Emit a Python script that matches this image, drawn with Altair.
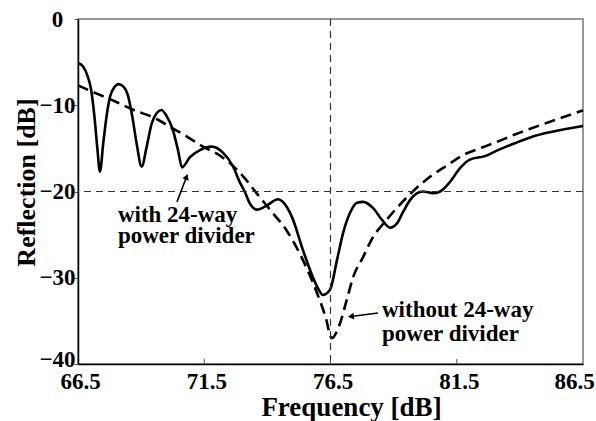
import altair as alt

# ---- data ----
solid_x = [66.5, 66.7, 66.89, 67.02, 67.15, 67.26, 67.37, 67.5, 67.63, 67.77, 67.97, 68.1, 68.3,
           68.49, 68.65, 68.82, 69.02, 69.22, 69.42, 69.62, 69.8, 70.0, 70.26, 70.46, 70.62, 70.94,
           71.33, 71.8, 72.24, 72.64, 72.92, 73.1, 73.31, 73.59, 73.99, 74.42, 74.77, 74.98, 75.41,
           75.81, 76.0, 76.2, 76.48, 76.76, 77.0, 77.27, 77.55, 77.79, 78.18, 78.54, 78.86, 79.13,
           79.37, 79.65, 79.93, 80.16, 80.56, 80.84, 81.23, 81.63, 82.02, 82.62, 83.13, 83.8, 84.44,
           85.23, 86.5]
solid_y = [-5.1, -5.5, -6.7, -8.2, -11.3, -14.8, -17.7, -14.4, -11.3, -9.0, -7.8, -7.55, -7.85,
           -9.0, -11.3, -14.4, -17.1, -14.8, -12.1, -10.9, -10.55, -11.2, -12.9, -15.2, -17.2, -16.0,
           -15.2, -14.8, -15.5, -17.1, -19.0, -20.0, -21.4, -22.1, -21.6, -20.9, -21.8, -23.0, -26.8,
           -30.0, -31.2, -32.0, -31.4, -27.9, -24.8, -22.5, -21.3, -21.2, -21.9, -23.3, -24.2, -23.7,
           -22.4, -21.0, -20.2, -20.0, -20.2, -20.0, -18.9, -17.3, -16.3, -15.9, -15.2, -14.4, -13.7,
           -13.1, -12.4]

dashed_x = [66.5, 67.2, 68.0, 68.7, 69.55, 70.14, 70.8, 71.45, 72.1, 72.7, 73.2, 73.6, 74.1, 74.78,
            75.4, 75.97, 76.3, 76.55, 76.85, 77.15, 77.4, 77.79, 78.18, 78.66, 79.13, 79.65, 80.44,
            81.1, 81.74, 82.5, 83.13, 83.8, 84.44, 85.5, 86.5]
dashed_y = [-7.7, -8.6, -9.6, -10.55, -11.5, -12.5, -13.6, -14.8, -15.8, -17.2, -18.8, -20.3, -22.1,
            -24.6, -27.9, -31.8, -34.5, -37.0, -35.5, -32.5, -29.9, -27.6, -25.3, -23.5, -21.9, -20.3,
            -18.3, -17.0, -15.8, -14.9, -14.2, -13.4, -12.7, -11.6, -10.6]

x_ticks = [66.5, 71.5, 76.5, 81.5, 86.5]
y_ticks = [0, -10, -20, -30, -40]
inner_ticks = [71.5, 76.5, 81.5]
ref_x = [76.5]
ref_y = [-20]

# annotations (data units)
ann1_text = ["with 24-way", "power divider"]
ann1_x = 68.08
ann1_y = -23.54
ann2_text = ["without 24-way", "power divider"]
ann2_x = 78.54
ann2_y = -34.55
arrow_x = [70.42, 78.38]
arrow_y = [-21.2, -34.09]
arrow_x2 = [70.80, 77.31]
arrow_y2 = [-18.29, -34.49]
arrow_angle = [21, 263]

FONT = "Liberation Serif"

x_enc = alt.X("x:Q",
              scale=alt.Scale(domain=[66.5, 86.5], nice=False, zero=False),
              axis=alt.Axis(values=x_ticks, format=".1f", title="Frequency [dB]", grid=False,
                            ticks=False, labelFlush=False, labelFontSize=23, labelFontWeight="bold",
                            labelPadding=6,
                            labelOffset={"condition": {"test": "datum.value == 86.5", "value": -9},
                                         "value": 2},
                            titleX=273, titleY=43, titleAlign="center", titleBaseline="middle",
                            titleFontSize=27, domainColor="black", domainWidth=1.5))
y_enc = alt.Y("y:Q",
              scale=alt.Scale(domain=[-40, 0], nice=False, zero=False),
              axis=alt.Axis(values=y_ticks, format="d", title="Reflection [dB]", grid=False,
                            tickSize=4, tickColor="#555", labelFlush=False, labelAlign="center",
                            labelBaseline="middle", labelPadding=17, labelFontSize=23,
                            labelOffset={"condition": {"test": "datum.value == -40", "value": -5},
                                         "value": 0},
                            labelFontWeight="bold", titleX=-52, titleY=163, titleAngle=270,
                            titleAlign="center", titleBaseline="middle", titleFontSize=26,
                            domainColor="black", domainWidth=1.5))

solid_data = alt.Data(values=[{"x": a, "y": b} for a, b in zip(solid_x, solid_y)])
dashed_data = alt.Data(values=[{"x": a, "y": b} for a, b in zip(dashed_x, dashed_y)])

solid = alt.Chart(solid_data).mark_line(color="black", strokeWidth=2.6,
                                        interpolate="monotone").encode(x=x_enc, y=y_enc)
dashed = alt.Chart(dashed_data).mark_line(color="black", strokeWidth=2.6, strokeDash=[11, 6],
                                          interpolate="monotone").encode(x=x_enc, y=y_enc)

vref = alt.Chart(alt.Data(values=[{"x": v} for v in ref_x])).mark_rule(
    color="#333", strokeWidth=1.2, strokeDash=[7, 5]).encode(x=x_enc)
href = alt.Chart(alt.Data(values=[{"y": v} for v in ref_y])).mark_rule(
    color="#333", strokeWidth=1.2, strokeDash=[7, 5]).encode(y=y_enc)

inticks = alt.Chart(alt.Data(values=[{"x": v} for v in inner_ticks])).mark_rule(
    color="#555", strokeWidth=1).encode(x=x_enc, y=alt.value(345), y2=alt.value(340))

text1 = alt.Chart(alt.Data(values=[{"x": ann1_x, "y": ann1_y, "t": ann1_text}])).mark_text(
    font=FONT, fontWeight="bold", fontSize=23, align="left", baseline="alphabetic",
    lineHeight=21, color="black").encode(x=x_enc, y=y_enc, text="t:N")
text2 = alt.Chart(alt.Data(values=[{"x": ann2_x, "y": ann2_y, "t": ann2_text}])).mark_text(
    font=FONT, fontWeight="bold", fontSize=23, align="left", baseline="alphabetic",
    lineHeight=24, color="black").encode(x=x_enc, y=y_enc, text="t:N")

arr_data = alt.Data(values=[{"x": a, "y": b, "x2": c, "y2": d}
                            for a, b, c, d in zip(arrow_x, arrow_y, arrow_x2, arrow_y2)])
arrow_lines = alt.Chart(arr_data).mark_rule(color="black", strokeWidth=1.6).encode(
    x=x_enc, y=y_enc, x2="x2:Q", y2="y2:Q")
head_data = alt.Data(values=[{"x": c, "y": d, "a": e}
                             for c, d, e in zip(arrow_x2, arrow_y2, arrow_angle)])
arrow_heads = alt.Chart(head_data).mark_point(shape="triangle-up", filled=True, color="black",
                                              size=45, opacity=1).encode(
    x=x_enc, y=y_enc, angle=alt.Angle("a:Q", scale=None))

chart = alt.layer(solid, dashed, vref, href, inticks, text1, text2, arrow_lines,
                  arrow_heads).properties(
    width=505, height=345,
    autosize=alt.AutoSizeParams(type="none"),
    padding={"left": 78, "top": 19, "right": 13, "bottom": 57},
    background="white",
).configure_view(stroke="#777", strokeWidth=1.5).configure_axis(
    labelFont=FONT, titleFont=FONT, titleFontWeight="bold", labelColor="black", titleColor="black"
)

chart.save("out.html", embed_options={"renderer": "svg", "actions": False})
